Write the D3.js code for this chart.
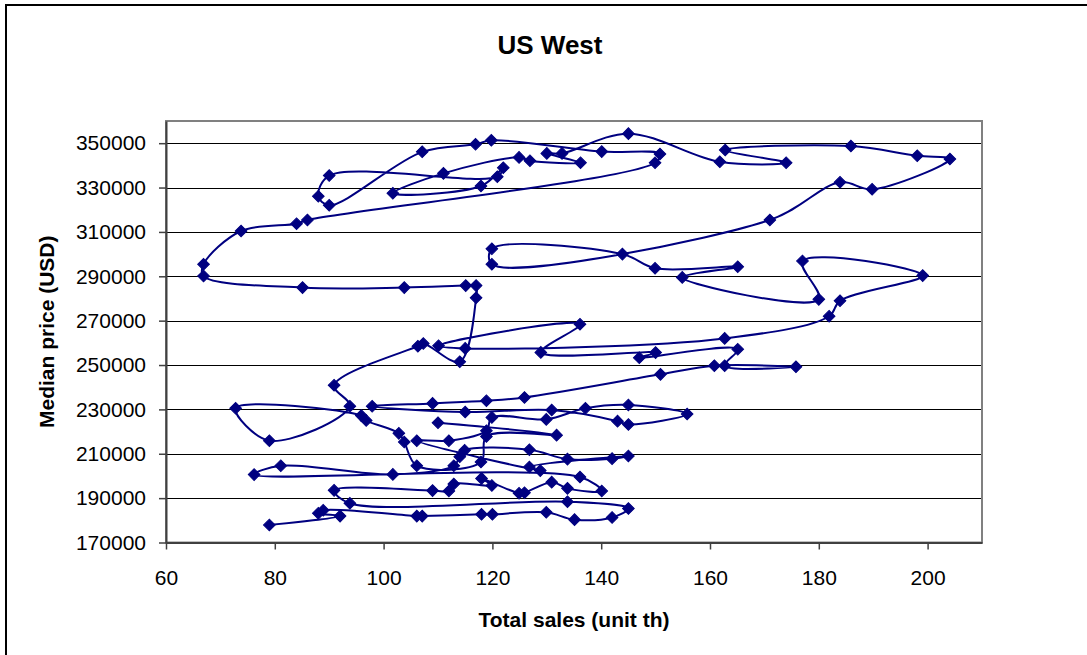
<!DOCTYPE html>
<html>
<head>
<meta charset="utf-8">
<script src="https://cdn.jsdelivr.net/npm/d3@7"></script>
<style>
  html, body { margin: 0; padding: 0; background: #ffffff; }
  svg { display: block; }
  text { font-family: "Liberation Sans", Arial, Helvetica, sans-serif; fill: #000; }
</style>
</head>
<body>
<svg id="chart" width="1087" height="655"></svg>
<script>
// ---------------- DATA (in series order) ----------------
const sales1999 = [79.0, 92.0, 88.0, 88.9, 106.1, 107.1, 118.0, 120.0, 129.9, 135.1, 142.0, 145.0, 133.8, 93.8];
const price1999 = [177900, 181900, 183200, 184500, 181900, 181900, 182700, 182700, 183600, 180300, 181300, 185300, 188400, 187700];

const sales2000 = [90.9, 109.0, 112.0, 112.9, 119.9, 118.0, 124.9, 125.9, 130.9, 133.8, 140.1, 136.1];
const price2000 = [193500, 193400, 193200, 196400, 195700, 198900, 192200, 192400, 197200, 194400, 193200, 199500];

const sales2001 = [76.2, 81.1, 101.7, 112.9, 114.0, 114.9, 126.8, 133.8, 142.0, 145.0, 126.8, 128.8];
const price2001 = [200600, 204600, 200700, 204600, 208700, 211600, 211800, 207600, 207800, 209000, 204000, 202400];

const sales2002 = [106.1, 112.0, 118.9, 119.9, 129.9, 137.1, 145.0, 155.8, 145.0, 143.0, 130.9, 115.0];
const price2002 = [215900, 215900, 220400, 226400, 225500, 230500, 232000, 227900, 223200, 224700, 229700, 228800];

const sales2003 = [97.9, 109.0, 118.9, 125.9, 150.9, 160.8, 175.8, 162.7, 165.1, 147.0, 150.0, 128.9];
const price2003 = [231400, 232700, 233900, 235400, 245800, 249700, 249200, 249700, 257100, 253300, 255600, 255700];

const sales2004 = [136.1, 110.1, 115.0, 162.7, 181.9, 183.9, 199.1, 177.0, 180.0, 154.9, 165.1, 149.9, 143.9];
const price2004 = [268400, 258700, 257500, 262000, 272000, 279000, 290300, 296900, 279600, 289500, 294300, 293600, 300000];

const sales2005 = [119.9, 119.9, 171.0, 183.9, 189.8, 204.1, 198.1, 185.9, 162.8, 174.0, 161.8, 145.0];
const price2005 = [302400, 295400, 315400, 332400, 329200, 342900, 344300, 348700, 346900, 341200, 341600, 354300];

const sales2006 = [132.8, 130.0, 136.2, 126.9, 124.9, 111.0, 101.7, 117.9, 122.0, 120.9, 90.0, 88.0, 90.0, 107.1, 116.9, 119.8, 140.1, 150.8, 149.9, 86.0, 84.0, 73.8];
const price2006 = [345400, 345400, 341200, 342100, 343600, 336400, 327400, 330700, 338900, 334900, 335400, 326100, 322000, 346100, 349500, 351300, 346200, 345100, 341200, 315400, 313700, 310400];

const sales2008 = [66.9, 66.9, 85.1, 103.8, 115.1, 117.0, 117.0, 114.0, 107.3, 106.3, 90.9];
const price2008 = [295400, 290100, 284900, 284900, 285800, 285800, 280300, 251500, 259700, 258500, 240900];

const sales2009 = [93.8, 79.0, 72.8, 95.9, 96.8, 102.8, 103.8, 106.1, 117.9, 118.9, 131.8, 110.0];
const price2009 = [231400, 215900, 230500, 227200, 225000, 219200, 215300, 204600, 206300, 217800, 218400, 224000];

const xTicks = [60, 80, 100, 120, 140, 160, 180, 200];
const yTicks = [170000, 190000, 210000, 230000, 250000, 270000, 290000, 310000, 330000, 350000];

const chartTitle = "US West";
const xTitle = "Total sales (unit th)";
const yTitle = "Median price (USD)";

const sales = [].concat(sales1999, sales2000, sales2001, sales2002, sales2003, sales2004, sales2005, sales2006, sales2008, sales2009);
const price = [].concat(price1999, price2000, price2001, price2002, price2003, price2004, price2005, price2006, price2008, price2009);

// ---------------- LAYOUT ----------------
const svg = d3.select("#chart");
const plot = { left: 166, right: 982, top: 121, bottom: 542.5 };
const navy = "#000080";

const x = d3.scaleLinear().domain([60, 210]).range([plot.left, plot.right]);
const y = d3.scaleLinear().domain([170000, 360000]).range([plot.bottom, plot.top]);

// chart area frame
svg.append("rect")
  .attr("x", 6).attr("y", 5).attr("width", 1200).attr("height", 800)
  .attr("fill", "#ffffff").attr("stroke", "#000").attr("stroke-width", 2);

// plot area background
svg.append("rect")
  .attr("x", plot.left).attr("y", plot.top)
  .attr("width", plot.right - plot.left).attr("height", plot.bottom - plot.top)
  .attr("fill", "#ffffff");

// gridlines
svg.append("g").selectAll("line")
  .data(yTicks.filter(d => d > 170000))
  .join("line")
  .attr("x1", plot.left).attr("x2", plot.right)
  .attr("y1", d => Math.round(y(d)) + 0.5).attr("y2", d => Math.round(y(d)) + 0.5)
  .attr("stroke", "#000").attr("stroke-width", 1);

// plot area border (gray)
svg.append("rect")
  .attr("x", plot.left).attr("y", plot.top)
  .attr("width", plot.right - plot.left).attr("height", plot.bottom - plot.top)
  .attr("fill", "none").attr("stroke", "#808080").attr("stroke-width", 2);

// axes
const fs = 21;
const yAxis = d3.axisLeft(y).tickValues(yTicks).tickSize(7).tickSizeOuter(0)
  .tickPadding(13).tickFormat(d3.format("d"));
const xAxis = d3.axisBottom(x).tickValues(xTicks).tickSize(7).tickSizeOuter(0)
  .tickPadding(13).tickFormat(d3.format("d"));

const gy = svg.append("g").attr("transform", `translate(${plot.left},0)`).call(yAxis);
const gx = svg.append("g").attr("transform", `translate(0,${plot.bottom})`).call(xAxis);
[gx, gy].forEach(g => {
  g.select(".domain").attr("stroke", "#404040").attr("stroke-width", 2);
  g.selectAll(".tick line").attr("stroke", "#404040").attr("stroke-width", 1.5);
  g.selectAll(".tick text")
    .attr("font-family", "Liberation Sans, Arial, sans-serif")
    .attr("font-size", fs).attr("fill", "#000");
});
gx.selectAll(".tick text").attr("dy", null).attr("y", 42);

// series: smoothed line
const pts = sales.map((s, i) => [x(s), y(price[i])]);
svg.append("path")
  .attr("d", d3.line().curve(d3.curveCatmullRom.alpha(0.5))(pts))
  .attr("fill", "none").attr("stroke", navy).attr("stroke-width", 2)
  .attr("stroke-linejoin", "round");

// diamond markers
const diamond = d3.symbol().type(d3.symbolSquare).size(68);
svg.append("g").selectAll("path")
  .data(pts)
  .join("path")
  .attr("d", diamond)
  .attr("transform", d => `translate(${d[0]},${d[1]}) rotate(45)`)
  .attr("fill", navy).attr("stroke", navy).attr("stroke-width", 1);

// titles
svg.append("text")
  .attr("x", 550).attr("y", 54).attr("text-anchor", "middle")
  .attr("font-size", 26).attr("font-weight", "bold").text(chartTitle);

svg.append("text")
  .attr("x", (plot.left + plot.right) / 2).attr("y", 627).attr("text-anchor", "middle")
  .attr("font-size", fs).attr("font-weight", "bold").text(xTitle);

svg.append("text")
  .attr("transform", `translate(54,${(plot.top + plot.bottom) / 2}) rotate(-90)`)
  .attr("text-anchor", "middle")
  .attr("font-size", fs).attr("font-weight", "bold").text(yTitle);
</script>
</body>
</html>
